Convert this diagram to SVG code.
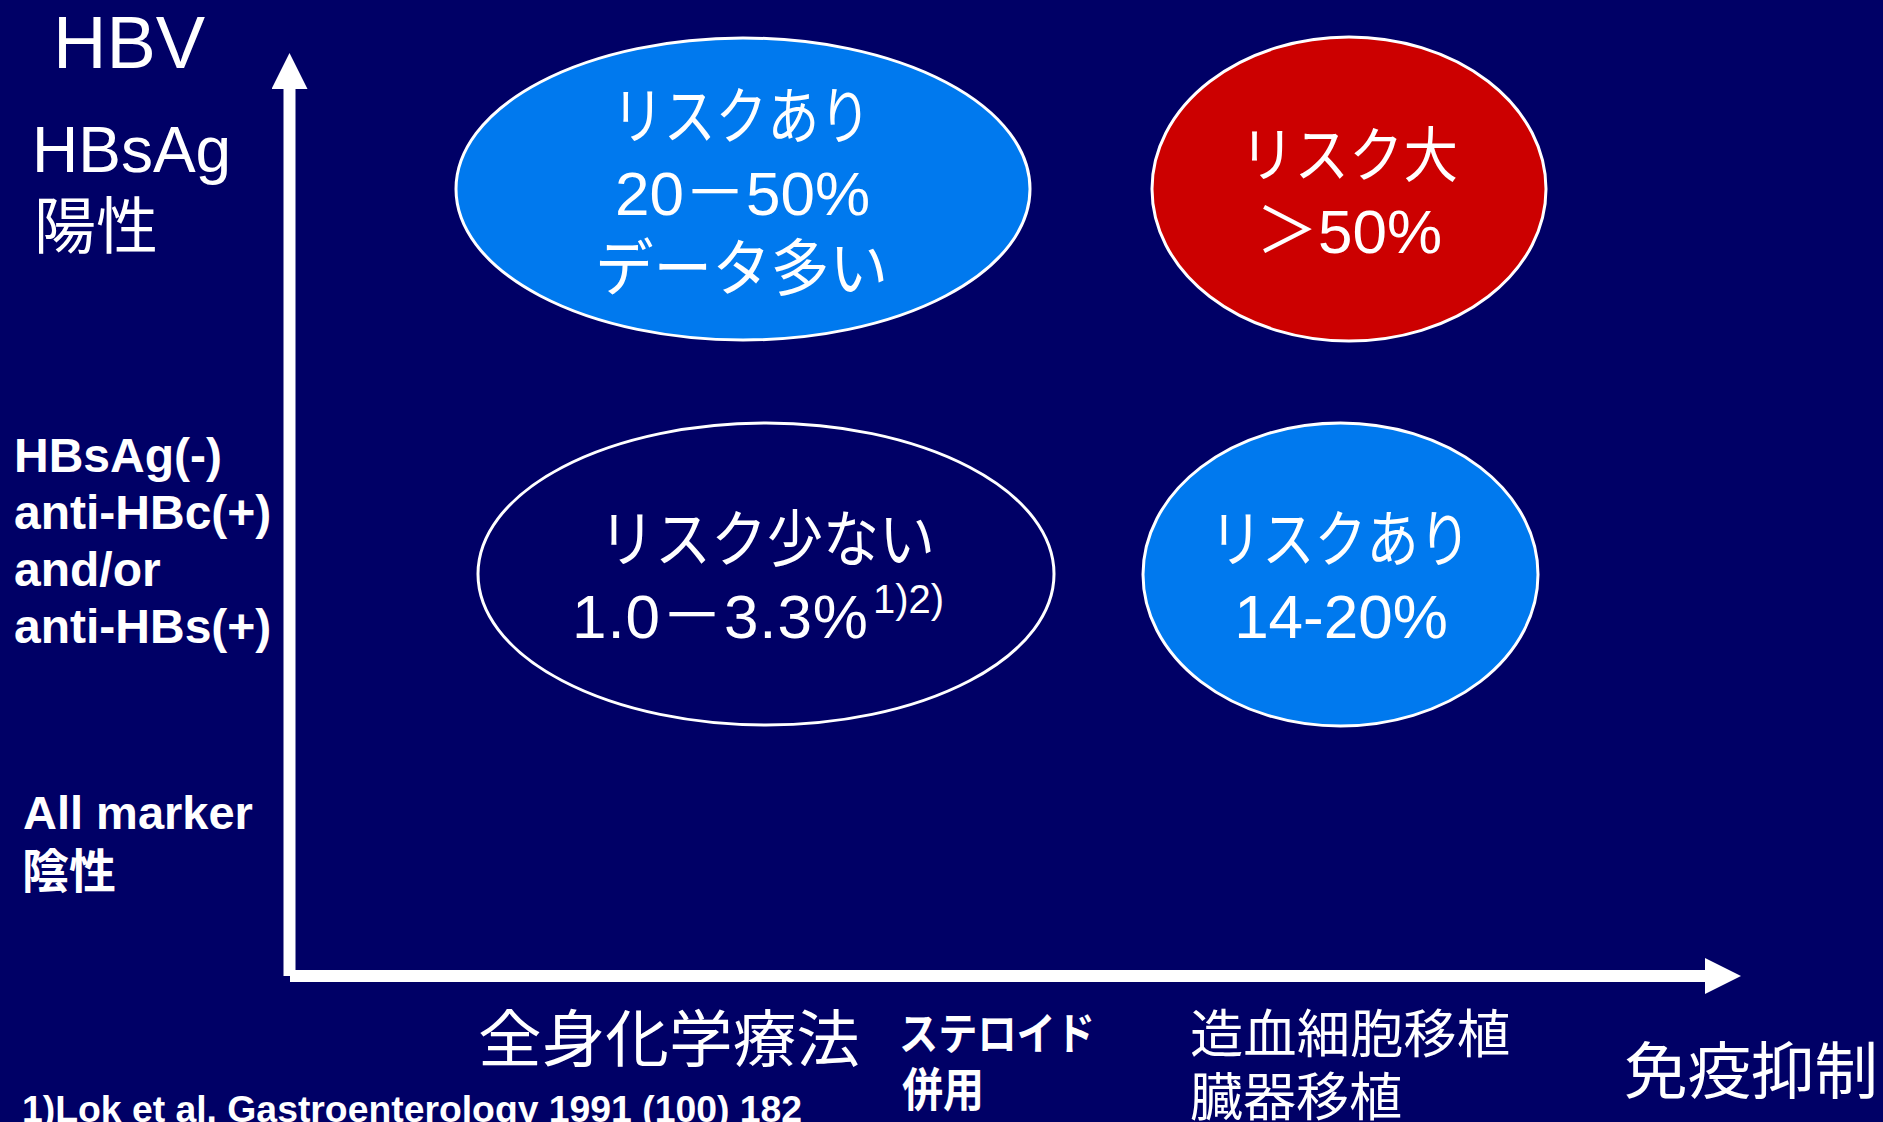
<svg xmlns="http://www.w3.org/2000/svg" width="1883" height="1122" viewBox="0 0 1883 1122">
<style>
text{fill:#ffffff;font-family:"Liberation Sans","Noto Sans CJK JP",sans-serif;}
.j{font-family:"Noto Sans CJK JP",sans-serif;}
.b{font-weight:bold;}
.blue{fill:#0079EE;stroke:#ffffff;stroke-width:3;}
.red{fill:#CC0000;stroke:#ffffff;stroke-width:3;}
.navy{fill:#000066;stroke:#ffffff;stroke-width:3;}
.axis{stroke:#ffffff;stroke-width:12;fill:none;}
</style>
<defs>
<marker id="ah" viewBox="0 0 36 36" refX="0" refY="18" markerWidth="36" markerHeight="36" markerUnits="userSpaceOnUse" orient="auto">
<path d="M0,0 L36,18 L0,36 Z" fill="#ffffff"/>
</marker>
</defs>
<rect x="0" y="0" width="1883" height="1122" fill="#000066"/>
<g id="connectors">
<line class="axis" x1="289.5" y1="976" x2="289.5" y2="89" marker-end="url(#ah)"/>
<line class="axis" x1="290" y1="976" x2="1705" y2="976" marker-end="url(#ah)"/>
</g>
<g id="labels-y">
<text x="53" y="68" font-size="74">HBV</text>
<text x="32" y="172" font-size="64">HBsAg</text>
<text class="j" x="34" y="249" font-size="62">陽性</text>
<text class="b" x="14" y="472" font-size="48">HBsAg(-)</text>
<text class="b" x="14" y="529" font-size="48">anti-HBc(+)</text>
<text class="b" x="14" y="586" font-size="48">and/or</text>
<text class="b" x="14" y="643" font-size="48">anti-HBs(+)</text>
<text class="b" x="23" y="829" font-size="47">All marker</text>
<text class="j b" x="22" y="888" font-size="47">陰性</text>
</g>
<g id="node-hbsag-chemo">
<ellipse class="blue" cx="743" cy="189" rx="287" ry="151"/>
<text class="j" x="612" y="139" font-size="62" textLength="259" lengthAdjust="spacingAndGlyphs">リスクあり</text>
<text x="742.5" y="215" font-size="62" text-anchor="middle">20－50%</text>
<text class="j" x="595" y="291" font-size="62" textLength="293" lengthAdjust="spacingAndGlyphs">データ多い</text>
</g>
<g id="node-hbsag-transplant">
<ellipse class="red" cx="1349" cy="189" rx="197" ry="152"/>
<text class="j" x="1240" y="177" font-size="60" textLength="218" lengthAdjust="spacingAndGlyphs">リスク大</text>
<text x="1349" y="253" font-size="62" text-anchor="middle">＞50%</text>
</g>
<g id="node-antihbc-chemo">
<ellipse class="navy" cx="766" cy="574" rx="288" ry="151"/>
<text class="j" x="599" y="562" font-size="62" textLength="336" lengthAdjust="spacingAndGlyphs">リスク少ない</text>
<text x="572" y="638" font-size="62" textLength="296" lengthAdjust="spacing">1.0－3.3%</text>
<text x="873" y="613" font-size="40">1)2)</text>
</g>
<g id="node-antihbc-transplant">
<ellipse class="blue" cx="1340.5" cy="574.5" rx="197.5" ry="151.5"/>
<text class="j" x="1210" y="562" font-size="62" textLength="261" lengthAdjust="spacingAndGlyphs">リスクあり</text>
<text x="1341" y="638" font-size="62" text-anchor="middle">14-20%</text>
</g>
<g id="labels-x">
<text class="j" x="478" y="1062" font-size="62" textLength="382" lengthAdjust="spacingAndGlyphs">全身化学療法</text>
<text class="j b" x="899" y="1050" font-size="44" textLength="196" lengthAdjust="spacingAndGlyphs">ステロイド</text>
<text class="j b" x="902" y="1106" font-size="46" textLength="82" lengthAdjust="spacingAndGlyphs">併用</text>
<text class="j" x="1190" y="1053" font-size="52" textLength="320" lengthAdjust="spacingAndGlyphs">造血細胞移植</text>
<text class="j" x="1190" y="1116" font-size="52" textLength="212" lengthAdjust="spacingAndGlyphs">臓器移植</text>
<text class="j" x="1624" y="1094" font-size="62" textLength="254" lengthAdjust="spacingAndGlyphs">免疫抑制</text>
</g>
<g id="footnote">
<text class="b" x="22" y="1122" font-size="37" textLength="780" lengthAdjust="spacingAndGlyphs">1)Lok et al. Gastroenterology 1991 (100) 182</text>
</g>
</svg>
